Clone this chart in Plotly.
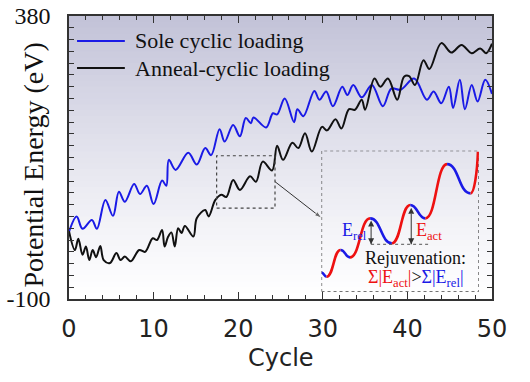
import plotly.graph_objects as go

# ---------------- data ----------------
cycle_sole = [0.0, 0.9, 1.6, 2.7, 3.3, 4.3, 5.2, 5.9, 6.6, 7.7, 8.4, 9.2, 10.0, 11.0, 11.5, 11.8,
              12.6, 14.1, 15.1, 16.1, 16.8, 17.8, 18.4, 19.4, 20.2, 20.9, 21.5, 21.8, 23.3, 24.1,
              24.6, 25.5, 26.6, 27.0, 27.7, 29.0, 29.6, 30.4, 31.2, 32.3, 32.9, 33.6, 34.6, 35.8,
              37.1, 38.1, 39.2, 40.8, 42.3, 43.1, 44.0, 44.9, 45.4, 46.2, 46.8, 47.6, 48.3, 49.2, 50.0]
energy_sole = [14, 40, 19, 34, 19, 68, 41, 82, 65, 95, 78, 92, 61, 101, 92, 136,
               119, 148, 128, 156, 144, 188, 167, 195, 176, 207, 198, 208, 191, 215,
               213, 240, 200, 222, 210, 253, 238, 252, 227, 260, 246, 263, 242, 263,
               227, 257, 255, 274, 238, 252, 232, 260, 224, 272, 222, 263, 235, 272, 248]

cycle_anneal = [0.0, 0.7, 1.1, 1.6, 2.0, 2.4, 2.8, 3.2, 3.7, 4.1, 4.85, 5.6, 6.1, 6.6, 7.3, 8.3,
                9.0, 9.9, 10.4, 11.0, 11.3, 11.7, 12.1, 12.5, 12.9, 13.3, 13.7, 14.7, 15.1, 16.1,
                16.5, 17.3, 18.0, 18.6, 19.4, 20.2, 21.4, 22.1, 22.9, 24.0, 24.6, 25.3, 26.4, 27.1,
                27.9, 28.7, 29.9, 30.5, 31.5, 32.2, 33.1, 33.8, 34.6, 35.0, 36.1, 36.8, 37.7, 38.8,
                39.6, 40.2, 40.9, 41.9, 42.6, 44.0, 45.2, 46.4, 47.6, 48.6, 49.3, 50.0]
energy_anneal = [15, -17, 2, -25, -11, -34, -17, -29, -10, -34, -39, -22, -34, -28, -36, -17,
                 -20, 3, 0, 17, -11, 5, 13, -11, 20, 12, 24, 6, 37, 51,
                 40, 68, 77, 73, 102, 85, 108, 99, 133, 118, 160, 136, 165, 156,
                 181, 150, 192, 186, 205, 189, 222, 221, 238, 221, 274, 260, 274, 238,
                 277, 278, 263, 305, 290, 334, 318, 331, 317, 325, 317, 333]

series_names = ["Sole cyclic loading", "Anneal-cyclic loading"]

x_tick_vals = [0, 10, 20, 30, 40, 50]
y_tick_vals = [-100, 380]
y_tick_text = ["-100", "380"]

# zoom box in the main chart (cycle, energy) and the pointer arrow to the inset
zoom_cycle = [17.45, 24.35]
zoom_energy = [54, 143]
pointer_cycle = [24.35, 29.9]
pointer_energy = [99, 37]

# inset schematic: extrema of the sketched energy landscape (normalised inset units)
inset_u = [0.0, 0.032, 0.121, 0.181, 0.309, 0.447, 0.564, 0.660, 0.798, 0.947, 0.994]
inset_v = [0.135, 0.106, 0.296, 0.243, 0.520, 0.343, 0.615, 0.520, 0.905, 0.697, 0.993]
# barrier arrows (u position, top v) and common base level
barrier_u = [0.315, 0.570]
barrier_top = [0.505, 0.595]
barrier_base = 0.336

SERIF = "Liberation Serif"
SANS = "DejaVu Sans"
BLUE = "#1a1ae6"
RED = "#ee1111"
BLACK = "#111111"

fig = go.Figure()
fig.add_trace(go.Scatter(x=cycle_sole, y=energy_sole, mode="lines", name=series_names[0],
                         showlegend=False,
                         line=dict(color=BLUE, width=2, shape="spline", smoothing=1.0)))
fig.add_trace(go.Scatter(x=cycle_anneal, y=energy_anneal, mode="lines", name=series_names[1],
                         showlegend=False,
                         line=dict(color=BLACK, width=2, shape="spline", smoothing=1.0)))

# pointer arrow from zoom box to inset
fig.add_trace(go.Scatter(x=pointer_cycle, y=pointer_energy, mode="lines+markers", showlegend=False,
                         hoverinfo="skip", line=dict(color="#333", width=1),
                         marker=dict(symbol="arrow", angleref="previous", size=[0, 8], color="#333")))
# barrier double arrows in the inset
for u, vt in zip(barrier_u, barrier_top):
    fig.add_trace(go.Scatter(x=[u, u], y=[barrier_base, vt], xaxis="x2", yaxis="y2",
                             mode="lines+markers", showlegend=False, hoverinfo="skip",
                             line=dict(color="#333", width=1),
                             marker=dict(symbol=["arrow-down", "arrow-up"], size=6, color="#333")))

shapes = []
# gradient plot background
N = 48
top = (194, 194, 216)
for i in range(N):
    t = (i + 0.5) / N
    s = t ** 1.2
    c = tuple(int(round(255 * (1 - s) + top[k] * s)) for k in range(3))
    shapes.append(dict(type="rect", xref="paper", yref="paper", x0=0, x1=1,
                       y0=i / N, y1=(i + 1) / N + 0.004, fillcolor="rgb(%d,%d,%d)" % c,
                       line=dict(width=0), layer="below"))

# zoom box and inset frame
shapes.append(dict(type="rect", xref="x", yref="y", x0=zoom_cycle[0], x1=zoom_cycle[1],
                   y0=zoom_energy[0], y1=zoom_energy[1], line=dict(color="#444", width=1.2, dash="dot")))
shapes.append(dict(type="rect", xref="x2", yref="y2", x0=0, x1=1, y0=0, y1=1,
                   line=dict(color="#444", width=1.2, dash="dot")))

# inset curve: rising parts red, falling parts blue
for i in range(len(inset_u) - 1):
    u0, v0, u1, v1 = inset_u[i], inset_v[i], inset_u[i + 1], inset_v[i + 1]
    um = (u0 + u1) / 2
    if i == len(inset_u) - 2:
        c2 = (u1 - 0.005, (v0 + v1) / 2)
    else:
        c2 = (um, v1)
    path = "M%.4f,%.4f C%.4f,%.4f %.4f,%.4f %.4f,%.4f" % (u0, v0, um, v0, c2[0], c2[1], u1, v1)
    shapes.append(dict(type="path", xref="x2", yref="y2", path=path,
                       line=dict(color=RED if v1 > v0 else BLUE, width=2.6)))

# dotted reference line for E_rel / E_act
shapes.append(dict(type="line", xref="x2", yref="y2", x0=0.315, x1=0.681, y0=barrier_base, y1=barrier_base,
                   line=dict(color="#555", width=1, dash="dot")))

# legend samples (drawn by hand to match the long sample lines of the reference)
legend_y = [0.912, 0.816]
legend_colors = [BLUE, BLACK]
for yy, col in zip(legend_y, legend_colors):
    shapes.append(dict(type="line", xref="paper", yref="paper", x0=0.019, x1=0.132, y0=yy, y1=yy,
                       line=dict(color=col, width=2)))

annotations = []
for yy, name in zip(legend_y, series_names):
    annotations.append(dict(xref="paper", yref="paper", x=0.151, y=yy, xanchor="left", yanchor="middle",
                            text=name, showarrow=False, font=dict(family=SERIF, size=22, color=BLACK)))

annotations.append(dict(xref="x2", yref="y2", x=0.30, y=0.43, xanchor="right", yanchor="middle",
                        text="E<sub>rel</sub>", showarrow=False,
                        font=dict(family=SERIF, size=18, color=BLUE)))
annotations.append(dict(xref="x2", yref="y2", x=0.585, y=0.43, xanchor="left", yanchor="middle",
                        text="E<sub>act</sub>", showarrow=False,
                        font=dict(family=SERIF, size=18, color=RED)))
annotations.append(dict(xref="x2", yref="y2", x=0.596, y=0.24, xanchor="center", yanchor="middle",
                        text="Rejuvenation:", showarrow=False,
                        font=dict(family=SERIF, size=18, color=BLACK)))
annotations.append(dict(xref="x2", yref="y2", x=0.60, y=0.09, xanchor="center", yanchor="middle",
                        text=("<span style='color:%s'>Σ|E<sub>act</sub>|</span>&gt;"
                              "<span style='color:%s'>Σ|E<sub>rel</sub>|</span>") % (RED, BLUE),
                        showarrow=False, font=dict(family=SERIF, size=18, color=BLACK)))
# axis titles
annotations.append(dict(xref="paper", yref="paper", x=-0.083, y=0.475, xanchor="center", yanchor="middle",
                        text="Potential Energy (eV)", textangle=-90, showarrow=False,
                        font=dict(family=SERIF, size=28, color=BLACK)))
annotations.append(dict(xref="paper", yref="paper", x=0.5, y=-0.21, xanchor="center", yanchor="middle",
                        text="Cycle", showarrow=False,
                        font=dict(family=SANS, size=24, color="#222")))

fig.update_layout(
    width=530, height=382,
    margin=dict(l=69, r=38, t=16, b=83, autoexpand=False),
    paper_bgcolor="white", plot_bgcolor="rgba(0,0,0,0)",
    shapes=shapes, annotations=annotations,
    showlegend=False,
    xaxis=dict(range=[0, 50], tickvals=x_tick_vals, ticks="inside", ticklen=7, tickwidth=1,
               tickcolor="#333", showline=True, linecolor="#333", linewidth=1.5, mirror="allticks",
               showgrid=False, zeroline=False, ticklabelstandoff=7, automargin=False,
               tickfont=dict(family=SANS, size=24, color="#222"),
               minor=dict(dtick=2, tick0=0, ticks="inside", ticklen=4, tickcolor="#333", showgrid=False)),
    yaxis=dict(range=[-100, 380], tickvals=y_tick_vals, ticktext=y_tick_text, ticks="inside", ticklen=5,
               tickwidth=1, tickcolor="#333", showline=True, linecolor="#333", linewidth=1.5,
               mirror="allticks", showgrid=False, zeroline=False, ticklabelstandoff=12, automargin=False,
               tickfont=dict(family=SERIF, size=24, color=BLACK),
               minor=dict(dtick=20, tick0=-100, ticks="inside", ticklen=5, tickcolor="#333", showgrid=False)),
    xaxis2=dict(domain=[0.597, 0.969], range=[0, 1], anchor="y2", visible=False, fixedrange=True,
                automargin=False),
    yaxis2=dict(domain=[0.026, 0.524], range=[0, 1], anchor="x2", visible=False, fixedrange=True,
                automargin=False),
)

fig.write_html("out.html")
